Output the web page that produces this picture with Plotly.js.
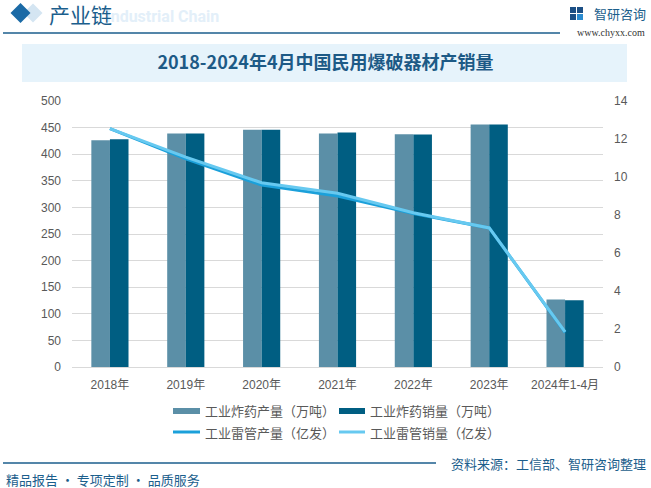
<!DOCTYPE html>
<html>
<head>
<meta charset="utf-8">
<script src="https://cdn.plot.ly/plotly-3.0.1.min.js"></script>
<style>
  html, body { margin: 0; padding: 0; background: #ffffff; }
  #chart { width: 651px; height: 488px; }
</style>
</head>
<body>
<div id="chart"></div>
<script>
// Categories and series (explosives in 万吨, detonators in 亿发)
const categories = ['2018年', '2019年', '2020年', '2021年', '2022年', '2023年', '2024年1-4月'];
const explosivesOutput = [426, 439, 446, 439, 437.5, 455.6, 127];
const explosivesSales = [428, 439, 446, 440.6, 437, 455.6, 125.5];
const detonatorOutput = [12.55, 10.95, 9.58, 9.0, 8.08, 7.32, 1.82];
const detonatorSales = [12.55, 11.05, 9.70, 9.14, 8.12, 7.32, 1.85];

const seriesNames = ['工业炸药产量（万吨）', '工业炸药销量（万吨）', '工业雷管产量（亿发）', '工业雷管销量（亿发）'];
const leftTicks = [0, 50, 100, 150, 200, 250, 300, 350, 400, 450, 500];
const rightTicks = [0, 2, 4, 6, 8, 10, 12, 14];

const chartTitle = '2018-2024年4月中国民用爆破器材产销量';
const headerText = '产业链';
const headerGhost = 'Industrial Chain';
const brandName = '智研咨询';
const brandUrl = 'www.chyxx.com';
const sourceText = '资料来源：工信部、智研咨询整理';
const sloganText = '精品报告 · 专项定制 · 品质服务';

const colors = ['#5b8fa7', '#005e82', '#1ba0da', '#67c9f0'];
const navy = '#1b5e8c';
const grey = '#595959';

// Plot box in page pixels
const W = 651, H = 488, L = 72, R = 603, T = 101, B = 367;
const fx = x => (x - L) / (R - L);
const fy = y => (B - y) / (B - T);

const traces = [
  { type: 'bar', x: categories, y: explosivesOutput, name: seriesNames[0], marker: { color: colors[0] }, yaxis: 'y' },
  { type: 'bar', x: categories, y: explosivesSales, name: seriesNames[1], marker: { color: colors[1] }, yaxis: 'y' },
  { type: 'scatter', mode: 'lines', x: categories, y: detonatorOutput, name: seriesNames[2], line: { color: colors[2], width: 3 }, yaxis: 'y2' },
  { type: 'scatter', mode: 'lines', x: categories, y: detonatorSales, name: seriesNames[3], line: { color: colors[3], width: 3 }, yaxis: 'y2' }
];

const shapes = [];
const annotations = [];

// Header: diamonds, rule, logo block
function diamond(cx, cy, r, color) {
  return {
    type: 'path', xref: 'paper', yref: 'paper', layer: 'above',
    path: `M ${fx(cx - r)} ${fy(cy)} L ${fx(cx)} ${fy(cy - r)} L ${fx(cx + r)} ${fy(cy)} L ${fx(cx)} ${fy(cy + r)} Z`,
    fillcolor: color, line: { width: 0 }
  };
}
shapes.push(diamond(33, 13, 9.5, '#d4e5f2'));
shapes.push(diamond(20.5, 13, 10, '#1b6aa6'));
shapes.push({ type: 'line', xref: 'paper', yref: 'paper', x0: fx(3), x1: fx(560), y0: fy(33), y1: fy(33), line: { color: navy, width: 1.5 } });

annotations.push({ xref: 'paper', yref: 'paper', x: fx(104), y: fy(17), xanchor: 'left', yanchor: 'middle', text: '<b>' + headerGhost + '</b>', showarrow: false, font: { family: 'Roboto, Arial, sans-serif', size: 16, color: '#e3eff9' } });
annotations.push({ xref: 'paper', yref: 'paper', x: fx(47), y: fy(14), xanchor: 'left', yanchor: 'middle', text: headerText, showarrow: false, font: { family: 'Noto Sans CJK SC', size: 21, color: '#1b5e8c' } });

// small brand mark
shapes.push({ type: 'rect', xref: 'paper', yref: 'paper', x0: fx(570), x1: fx(576), y0: fy(7), y1: fy(13), fillcolor: '#1c4f85', line: { width: 0 } });
shapes.push({ type: 'rect', xref: 'paper', yref: 'paper', x0: fx(577), x1: fx(583), y0: fy(7), y1: fy(13), fillcolor: '#1c4f85', line: { width: 0 } });
shapes.push({ type: 'rect', xref: 'paper', yref: 'paper', x0: fx(570), x1: fx(576), y0: fy(14), y1: fy(20), fillcolor: '#1c4f85', line: { width: 0 } });
shapes.push({ type: 'rect', xref: 'paper', yref: 'paper', x0: fx(577), x1: fx(583), y0: fy(14), y1: fy(20), fillcolor: '#2a8bd0', line: { width: 0 } });
annotations.push({ xref: 'paper', yref: 'paper', x: fx(592), y: fy(13), xanchor: 'left', yanchor: 'middle', text: brandName, showarrow: false, font: { family: 'Noto Sans CJK SC', size: 13, color: navy } });
annotations.push({ xref: 'paper', yref: 'paper', x: fx(647), y: fy(33), xanchor: 'right', yanchor: 'middle', text: brandUrl, showarrow: false, font: { family: 'Liberation Serif', size: 10, color: '#333333' } });

// Title band
shapes.push({ type: 'rect', xref: 'paper', yref: 'paper', layer: 'below', x0: fx(22), x1: fx(627), y0: fy(44), y1: fy(82), fillcolor: '#e6f3fb', line: { width: 0 } });

// Legend, drawn as swatches + labels
const legendRows = [411, 432];
const legendCols = [[173, 200, 203], [339, 365, 368]];
seriesNames.forEach((name, i) => {
  const row = legendRows[Math.floor(i / 2)];
  const col = legendCols[i % 2];
  if (i < 2) {
    shapes.push({ type: 'rect', xref: 'paper', yref: 'paper', x0: fx(col[0]), x1: fx(col[1]), y0: fy(row - 3), y1: fy(row + 3), fillcolor: colors[i], line: { width: 0 } });
  } else {
    shapes.push({ type: 'line', xref: 'paper', yref: 'paper', x0: fx(col[0]), x1: fx(col[1]), y0: fy(row), y1: fy(row), line: { color: colors[i], width: 3 } });
  }
  annotations.push({ xref: 'paper', yref: 'paper', x: fx(col[2]), y: fy(row), xanchor: 'left', yanchor: 'middle', text: name, showarrow: false, font: { family: 'Noto Sans CJK SC', size: 13, color: grey } });
});

// Footer
shapes.push({ type: 'line', xref: 'paper', yref: 'paper', x0: fx(3), x1: fx(436), y0: fy(463), y1: fy(463), line: { color: navy, width: 1.5 } });
annotations.push({ xref: 'paper', yref: 'paper', x: fx(648), y: fy(463), xanchor: 'right', yanchor: 'middle', text: sourceText, showarrow: false, font: { family: 'Noto Sans CJK SC', size: 13, color: navy } });
annotations.push({ xref: 'paper', yref: 'paper', x: fx(4), y: fy(479), xanchor: 'left', yanchor: 'middle', text: sloganText, showarrow: false, font: { family: 'Noto Sans CJK SC', size: 13, color: navy } });

const layout = {
  width: W, height: H,
  margin: { l: L, r: W - R, t: T, b: H - B, pad: 0 },
  paper_bgcolor: '#ffffff', plot_bgcolor: 'rgba(0,0,0,0)',
  showlegend: false,
  barmode: 'group', bargap: 0.51, bargroupgap: 0,
  title: {
    text: '<b>' + chartTitle + '</b>',
    x: 0.5, xref: 'container', xanchor: 'center',
    y: 1 - 63 / H, yref: 'container', yanchor: 'middle',
    font: { family: 'Noto Sans CJK SC', size: 18, color: '#1d5a86' }
  },
  xaxis: {
    type: 'category', showgrid: false, zeroline: false, showline: false, ticks: '',
    ticklabelstandoff: 9,
    tickfont: { family: 'Liberation Sans, Noto Sans CJK SC', size: 12, color: grey }
  },
  yaxis: {
    range: [0, 500], tickvals: leftTicks, showgrid: true, gridcolor: '#d9d9d9', gridwidth: 1,
    zeroline: true, zerolinecolor: '#d9d9d9', zerolinewidth: 1, showline: false, ticks: '',
    ticklabelstandoff: 10,
    tickfont: { family: 'Liberation Sans', size: 12, color: grey }
  },
  yaxis2: {
    range: [0, 14], tickvals: rightTicks, overlaying: 'y', side: 'right',
    showgrid: false, zeroline: false, showline: false, ticks: '',
    ticklabelstandoff: 10,
    tickfont: { family: 'Liberation Sans', size: 12, color: grey }
  },
  shapes: shapes,
  annotations: annotations
};

Plotly.newPlot('chart', traces, layout, { staticPlot: true, displayModeBar: false });
</script>
</body>
</html>
